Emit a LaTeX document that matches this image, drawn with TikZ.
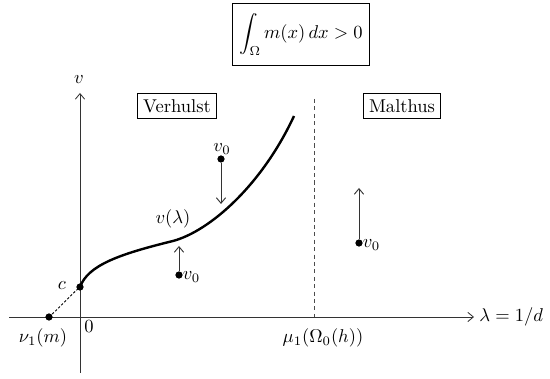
\documentclass[tikz,border=0pt]{standalone}
\usepackage{amsmath}
\usetikzlibrary{arrows.meta}
\begin{document}
\begin{tikzpicture}[x=0.54pt,y=-0.54pt,
  >={Straight Barb[length=3pt,width=5pt]},
  axis/.style={line width=0.45pt,black!80},
  flow/.style={->,line width=0.5pt,black!80},
  dot/.style={circle,fill=black,inner sep=0pt,minimum size=3.9pt},
  regionbox/.style={draw,line width=0.45pt,inner sep=3pt,fill=white},
  lbl/.style={inner sep=0pt}]
\useasboundingbox (0,0) rectangle (550,379);
% axes
\coordinate (xl) at (9,317);
\coordinate (xr) at (474,317);
\coordinate (yb) at (80,373);
\coordinate (yt) at (80,93);
\draw[axis,->] (xl) -- (xr);
\draw[axis,->] (yb) -- (yt);
\node[lbl,anchor=west] (lamlbl) at (479,317) {$\lambda = 1/d$};
\node[lbl] (vlbl) at (79,80) {$v$};
\node[lbl] (zero) at (89,327) {$0$};
% top condition box
\node[regionbox,inner xsep=3.5pt,inner ysep=5.5pt] (cond) at (301,34.5) {$\displaystyle\int_\Omega m(x)\,dx>0$};
% region boxes
\node[regionbox] (verh) at (177,106) {Verhulst};
\node[regionbox] (malt) at (402,106) {Malthus};
% dashed threshold
\coordinate (mutop) at (314,99);
\coordinate (mubot) at (314,317);
\draw[black!70,line width=0.5pt,dash pattern=on 2.2pt off 1.8pt] (mutop) -- (mubot);
\node[lbl] (mulbl) at (323,338) {$\mu_1(\Omega_0(h))$};
% nu_1 and c
\node[dot] (nu) at (49,317) {};
\node[dot] (c) at (80,287) {};
\node[lbl] (nulbl) at (43,338) {$\nu_1(m)$};
\node[lbl] (clbl) at (62,286) {$c$};
\draw[line width=0.5pt,dash pattern=on 1.3pt off 1pt] (nu.center) to[out=42,in=222] (c.center);
% curve v(lambda)
\coordinate (mid) at (173,241);
\coordinate (cend) at (294,116);
\draw[line width=1.3pt] (c.center) .. controls (88,265) and (120,254) .. (mid)
  .. controls (210,231) and (262,185) .. (cend);
\node[lbl] (vlam) at (173,219) {$v(\lambda)$};
% initial data and flow arrows
\node[dot] (d1) at (221,159) {};
\node[lbl] (d1lbl) at (222,149) {$v_0$};
\coordinate (t1) at (221,204);
\draw[flow] (d1) -- (t1);
\node[dot] (d2) at (179,275) {};
\node[lbl,anchor=west] (d2lbl) at (182.5,277) {$v_0$};
\coordinate (t2) at (179,246);
\draw[flow] (d2) -- (t2);
\node[dot] (d3) at (359,243) {};
\node[lbl,anchor=west] (d3lbl) at (362.5,245) {$v_0$};
\coordinate (t3) at (359,188);
\draw[flow] (d3) -- (t3);
\end{tikzpicture}
\end{document}
